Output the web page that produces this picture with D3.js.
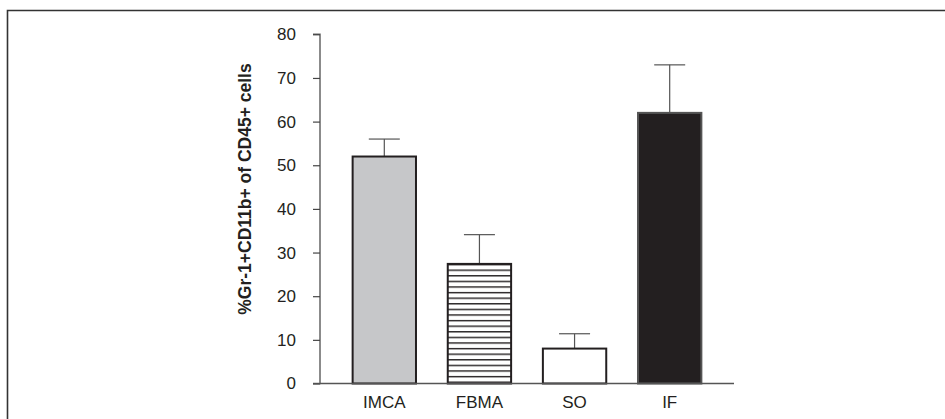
<!DOCTYPE html>
<html><head><meta charset="utf-8">
<script src="https://cdn.jsdelivr.net/npm/d3@7"></script>
<style>body{margin:0;background:#fff}svg{display:block}</style>
</head><body>
<svg id="c" width="945" height="419"></svg>
<script>
const categories = ["IMCA", "FBMA", "SO", "IF"];
const means = [52, 27.4, 8, 62];
const errors = [4, 6.7, 3.4, 11];
const yTicks = [0, 10, 20, 30, 40, 50, 60, 70, 80];
const yLabel = "%Gr-1+CD11b+ of CD45+ cells";

const svg = d3.select("#c");
const font = "Liberation Sans, Arial, sans-serif";
const dark = "#231f20";

// frame
svg.append("path").attr("d","M7.5,419 V10.5 H945").attr("fill","none").attr("stroke","#333").attr("stroke-width",1.6);

const x = d3.scaleBand().domain(categories).range([320, 734]).paddingInner(0.334).paddingOuter(0.343);
const y = d3.scaleLinear().domain([0, 80]).range([383.5, 34.3]);

// pattern for FBMA
const defs = svg.append("defs");
const pat = defs.append("pattern").attr("id","hstripe").attr("patternUnits","userSpaceOnUse")
  .attr("width",10).attr("height",5.6).attr("y", y(27.4));
pat.append("rect").attr("width",10).attr("height",5.6).attr("fill","#fff");
pat.append("rect").attr("y",0).attr("width",10).attr("height",1.4).attr("fill",dark);

const fills = ["#c6c7c9", "url(#hstripe)", "#ffffff", dark];
const strokes = [dark, dark, dark, "#555"];

// error bars
categories.forEach((c,i)=>{
  const cx = x(c) + x.bandwidth()/2;
  svg.append("line").attr("x1",cx).attr("x2",cx).attr("y1",y(means[i])).attr("y2",y(means[i]+errors[i]))
    .attr("stroke","#555").attr("stroke-width",1.2);
  svg.append("line").attr("x1",cx-15.5).attr("x2",cx+15.5).attr("y1",y(means[i]+errors[i])).attr("y2",y(means[i]+errors[i]))
    .attr("stroke","#555").attr("stroke-width",1.2);
});

// bars
svg.selectAll("rect.bar").data(categories).enter().append("rect").attr("class","bar")
  .attr("x", d=>x(d)).attr("width", x.bandwidth())
  .attr("y", (d,i)=>y(means[i])).attr("height",(d,i)=>y(0)-y(means[i]))
  .attr("fill",(d,i)=>fills[i]).attr("stroke",(d,i)=>strokes[i]).attr("stroke-width",2);

// y axis
const ya = svg.append("g").attr("transform","translate(320,0)")
  .call(d3.axisLeft(y).tickValues(yTicks).tickSize(7).tickPadding(17));
ya.select(".domain").attr("stroke","#666").attr("stroke-width",1.5).attr("d","M-7,383.5H0V34.3H-7");
ya.selectAll(".tick line").attr("stroke","#444").attr("stroke-width",1.2);
ya.selectAll(".tick text").attr("font-family",font).attr("font-size",17).attr("fill","#231f20");

// x axis
const xa = svg.append("g").attr("transform","translate(0,383.5)")
  .call(d3.axisBottom(x).tickSize(0).tickPadding(12));
xa.select(".domain").attr("stroke","#555").attr("stroke-width",1.5).attr("d","M320,0H734");
xa.selectAll(".tick text").attr("font-family",font).attr("font-size",17).attr("fill","#231f20");

// y label
svg.append("text").attr("transform","translate(251,189) rotate(-90)")
  .attr("text-anchor","middle").attr("font-family",font).attr("font-weight","bold")
  .attr("font-size",17.5).attr("fill",dark).text(yLabel);
</script>
</body></html>
